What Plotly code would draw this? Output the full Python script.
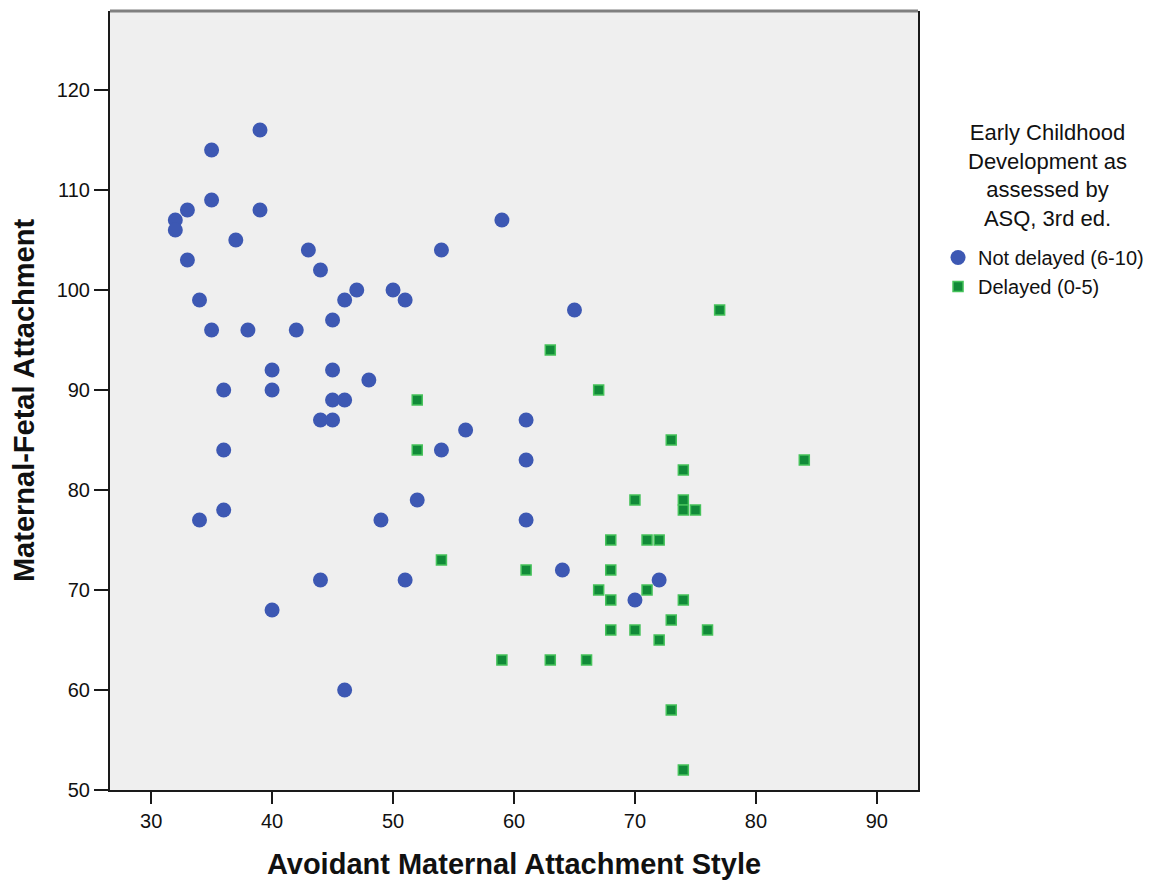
import plotly.graph_objects as go

# Not delayed (6-10)
not_delayed_x = [32, 32, 33, 33, 34, 34, 35, 35, 35, 36, 36, 36, 37, 38, 39, 39, 40, 40, 40,
                 42, 43, 44, 44, 44, 45, 45, 45, 45, 46, 46, 46, 47, 48, 49, 50, 51, 51, 52,
                 54, 54, 56, 59, 61, 61, 61, 64, 65, 70, 72]
not_delayed_y = [107, 106, 108, 103, 99, 77, 114, 109, 96, 90, 84, 78, 105, 96, 116, 108, 92, 90, 68,
                 96, 104, 102, 87, 71, 97, 92, 89, 87, 99, 89, 60, 100, 91, 77, 100, 99, 71, 79,
                 104, 84, 86, 107, 87, 83, 77, 72, 98, 69, 71]

# Delayed (0-5)
delayed_x = [52, 52, 54, 59, 61, 63, 63, 66, 67, 67, 68, 68, 68, 68, 70, 70, 71, 71, 72, 72,
             73, 73, 73, 74, 74, 74, 74, 74, 75, 76, 77, 84]
delayed_y = [89, 84, 73, 63, 72, 94, 63, 63, 90, 70, 75, 72, 69, 66, 79, 66, 75, 70, 75, 65,
             85, 67, 58, 82, 79, 78, 69, 52, 78, 66, 98, 83]

x_ticks = [30, 40, 50, 60, 70, 80, 90]
y_ticks = [50, 60, 70, 80, 90, 100, 110, 120]

legend_title = "Early Childhood<br>Development as<br>assessed by<br>ASQ, 3rd ed."

fig = go.Figure()
fig.add_trace(go.Scatter(
    x=not_delayed_x, y=not_delayed_y, mode="markers", name="Not delayed (6-10)",
    marker=dict(symbol="circle", size=15, color="#3D58B3", line=dict(width=0)),
))
fig.add_trace(go.Scatter(
    x=delayed_x, y=delayed_y, mode="markers", name="Delayed (0-5)",
    marker=dict(symbol="square", size=10, color="#118A38", line=dict(width=1.5, color="#45C25A")),
))

font_family = "Liberation Sans, Arial, sans-serif"

# page body has an 8px margin, so the figure is made 8px smaller and margins shifted
fig.update_layout(
    width=1160, height=874,
    margin=dict(l=102, r=250, t=3, b=92, autoexpand=False),
    paper_bgcolor="white",
    plot_bgcolor="#EFEFEF",
    font=dict(family=font_family, color="#111111"),
    showlegend=True,
    legend=dict(
        x=1.0248, y=1.0 - (238 - 11) / 779, xanchor="left", yanchor="top",
        font=dict(size=20, family=font_family, color="#111111"),
        bgcolor="rgba(0,0,0,0)", tracegroupgap=0, itemwidth=30,
    ),
    xaxis=dict(
        range=[26.6, 93.4], tickvals=x_ticks, showgrid=False, zeroline=False,
        showline=True, linecolor="#1A1A1A", linewidth=2, mirror=False,
        ticks="outside", ticklen=12, tickwidth=2, tickcolor="#1A1A1A", automargin=False,
        tickfont=dict(size=20, family=font_family, color="#111111"),
        title=dict(text="<b>Avoidant Maternal Attachment Style</b>",
                   font=dict(size=29, family=font_family, color="#111111"), standoff=23),
    ),
    yaxis=dict(
        range=[50, 127.9], tickvals=y_ticks, showgrid=False, zeroline=False,
        showline=True, linecolor="#1A1A1A", linewidth=2, mirror=True,
        ticks="outside", ticklen=14, tickwidth=2, tickcolor="#1A1A1A", automargin=False,
        tickfont=dict(size=20, family=font_family, color="#111111"),
        title=dict(text="<b>Maternal-Fetal Attachment</b>",
                   font=dict(size=29, family=font_family, color="#111111"), standoff=14),
    ),
    shapes=[dict(type="line", xref="paper", yref="paper", x0=0, x1=1, y0=1, y1=1,
                 line=dict(color="#808080", width=3))],
    annotations=[dict(text=legend_title, xref="paper", yref="paper",
                      x=(1047 - 110) / 808, y=1.0 - (118 - 11) / 779, xanchor="center", yanchor="top",
                      showarrow=False, align="center",
                      font=dict(size=22, family=font_family, color="#111111"))],
)

fig.write_html("out.html")
